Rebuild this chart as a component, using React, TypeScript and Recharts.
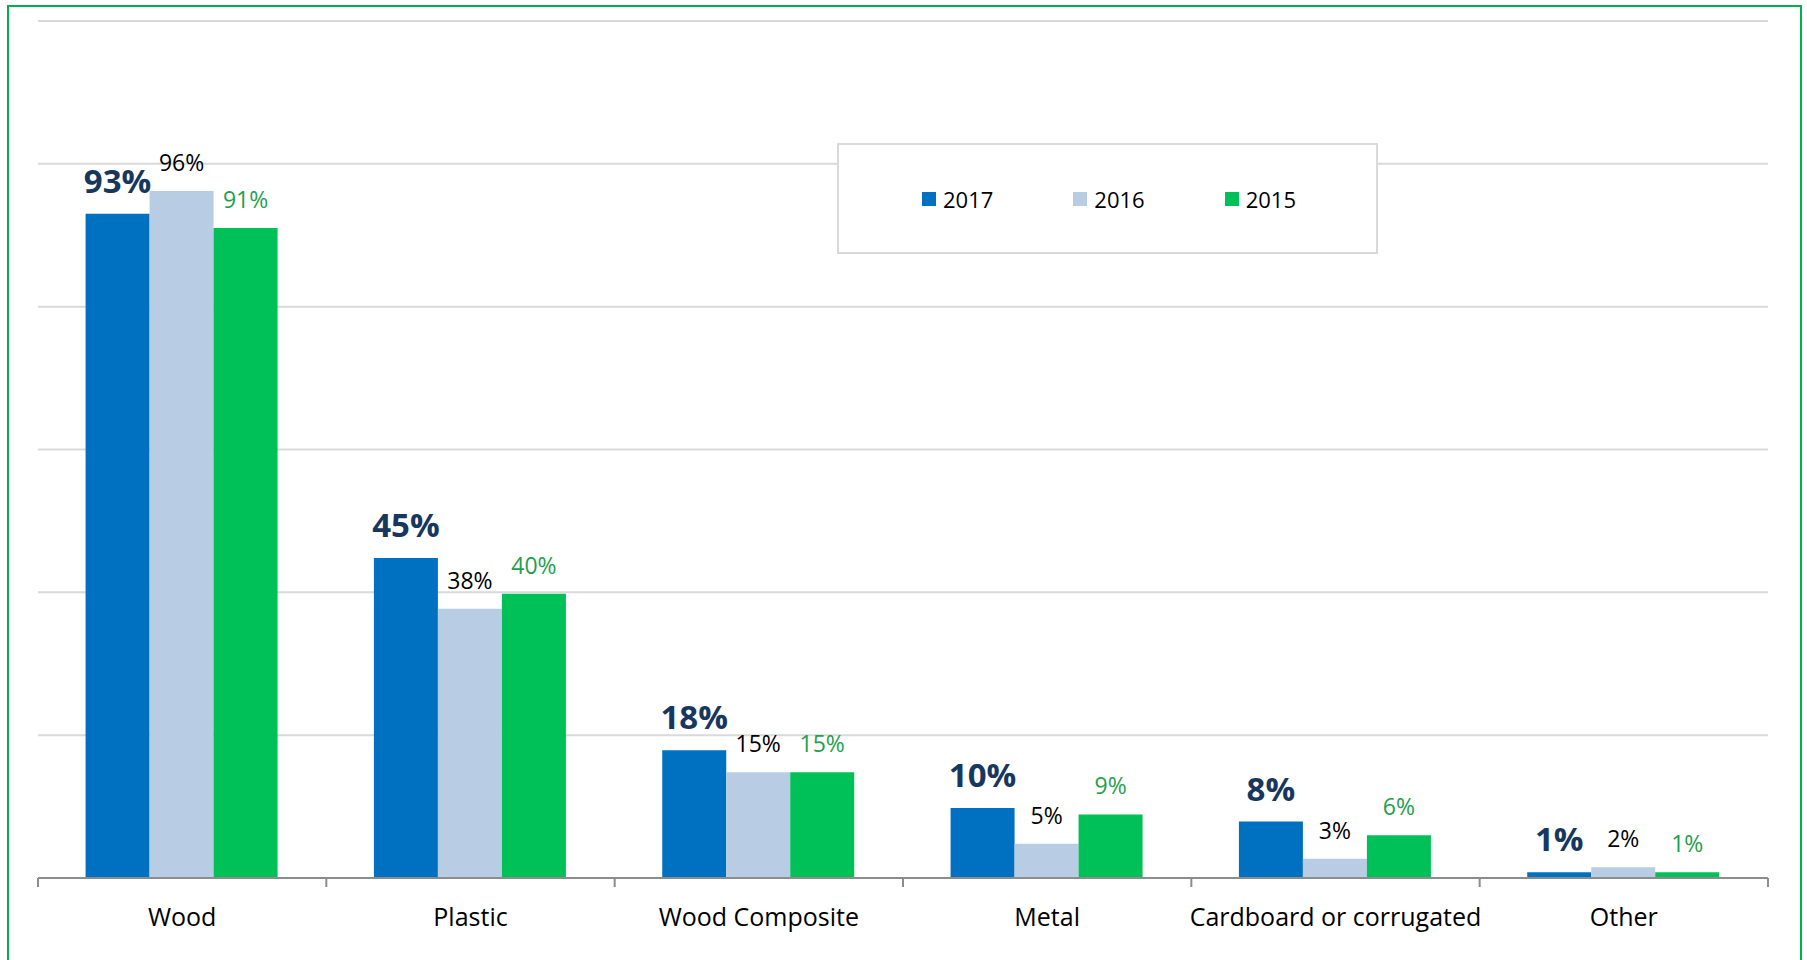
import { Bar, BarChart, CartesianGrid, LabelList, Legend, XAxis, YAxis } from "recharts";

const categories = ["Wood", "Plastic", "Wood Composite", "Metal", "Cardboard or corrugated", "Other"];
const seriesNames = ["2017", "2016", "2015"];
const y2017 = [93, 44.8, 17.9, 9.8, 7.9, 0.8];
const y2016 = [96.2, 37.7, 14.8, 4.8, 2.7, 1.5];
const y2015 = [91, 39.8, 14.8, 8.9, 6, 0.8];
const yTicks = [0, 20, 40, 60, 80, 100, 120];

const data = categories.map((name, i) => ({
  name,
  y2017: y2017[i],
  y2016: y2016[i],
  y2015: y2015[i],
}));

const W = 1807;
const H = 960;
const margin = { top: 21, right: 39, left: 38, bottom: 22 };
const band = (W - margin.left - margin.right) / categories.length;
const font = "'Open Sans', sans-serif";
const axisGrey = "#8c8c8c";

const pct = (v: any) => `${Math.round(Number(v))}%`;

function CategoryTick(props: any) {
  const { x, y, payload, index } = props;
  const last = index === categories.length - 1;
  return (
    <g>
      <line x1={x - band / 2} x2={x - band / 2} y1={y} y2={y + 9} stroke={axisGrey} strokeWidth={2} />
      {last && <line x1={x + band / 2} x2={x + band / 2} y1={y} y2={y + 9} stroke={axisGrey} strokeWidth={2} />}
      <text x={x} y={y + 48} textAnchor="middle" fill="#000" fontSize={25} fontFamily={font}>
        {payload.value}
      </text>
    </g>
  );
}

function LegendBox(props: any) {
  const payload = [...(props.payload || [])].sort(
    (a: any, b: any) => seriesNames.indexOf(a.value) - seriesNames.indexOf(b.value)
  );
  return (
    <div
      style={{
        display: "flex",
        alignItems: "center",
        height: "100%",
        paddingLeft: 83,
        boxSizing: "border-box",
      }}
    >
      {payload.map((p: any) => (
        <div key={p.value} style={{ display: "flex", alignItems: "center", width: 156 }}>
          <span style={{ width: 14, height: 14, background: p.color, marginRight: 7, display: "inline-block" }} />
          <span style={{ fontSize: 22, fontFamily: font, color: "#000" }}>{p.value}</span>
        </div>
      ))}
    </div>
  );
}

export default function App() {
  return (
    <div style={{ position: "absolute", left: 0, top: 0, width: W, height: H, overflow: "hidden", background: "#fff" }}>
      <div
        style={{
          position: "absolute",
          left: 7,
          top: 5,
          width: 1795,
          height: 1000,
          border: "2px solid #00B050",
          boxSizing: "border-box",
        }}
      />
      <div style={{ position: "absolute", left: 0, top: 0 }}>
        <BarChart width={W} height={H} data={data} margin={margin} barCategoryGap="16.5%" barGap={0}>
          <CartesianGrid vertical={false} stroke="#d9d9d9" strokeWidth={2} />
          <XAxis
            dataKey="name"
            height={60}
            axisLine={{ stroke: axisGrey, strokeWidth: 2 }}
            tickLine={false}
            tickSize={0}
            tickMargin={0}
            tick={<CategoryTick />}
            interval={0}
          />
          <YAxis hide domain={[0, 120]} ticks={yTicks} />
          <Legend
            layout="horizontal"
            verticalAlign="middle"
            align="center"
            content={<LegendBox />}
            wrapperStyle={{
              left: 837,
              top: 143,
              width: 541,
              height: 111,
              border: "2px solid #d9d9d9",
              background: "#fff",
              boxSizing: "border-box",
            }}
          />
          <Bar dataKey="y2017" name="2017" fill="#0070C0" isAnimationActive={false}>
            <LabelList
              dataKey="y2017"
              position="top"
              offset={21}
              formatter={pct}
              fill="#17375E"
              fontSize={33}
              fontWeight="bold"
              fontFamily={font}
            />
          </Bar>
          <Bar dataKey="y2016" name="2016" fill="#B8CCE4" isAnimationActive={false}>
            <LabelList
              dataKey="y2016"
              position="top"
              offset={20}
              formatter={pct}
              fill="#000"
              fontSize={23}
              fontFamily={font}
            />
          </Bar>
          <Bar dataKey="y2015" name="2015" fill="#00C058" isAnimationActive={false}>
            <LabelList
              dataKey="y2015"
              position="top"
              offset={20}
              formatter={pct}
              fill="#1FA04C"
              fontSize={23}
              fontFamily={font}
            />
          </Bar>
        </BarChart>
      </div>
    </div>
  );
}
